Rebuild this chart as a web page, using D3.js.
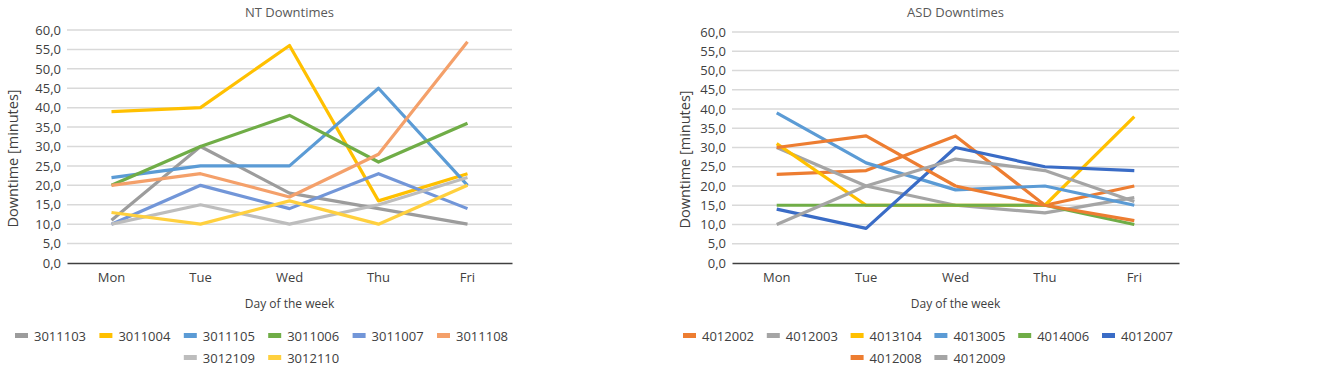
<!DOCTYPE html>
<html>
<head>
<meta charset="utf-8">
<script src="https://cdn.jsdelivr.net/npm/d3@7"></script>
<style>
  body { margin: 0; background: #fff; }
  svg text { font-family: "Open Sans", "Noto Sans", sans-serif; }
</style>
</head>
<body>
<svg id="chart" width="1325" height="368"></svg>
<script>
// shared data
var days = ["Mon", "Tue", "Wed", "Thu", "Fri"];
var yTicks = [0, 5, 10, 15, 20, 25, 30, 35, 40, 45, 50, 55, 60];

// NT chart
var ntNames = ["3011103", "3011004", "3011105", "3011006", "3011007", "3011108", "3012109", "3012110"];
var ntColors = ["#9c9c9c", "#ffc000", "#5b9bd5", "#70ad47", "#7296d8", "#f4a06a", "#bdbdbd", "#ffd03e"];
var nt3011103 = [11, 30, 18, 14, 10];
var nt3011004 = [39, 40, 56, 16, 23];
var nt3011105 = [22, 25, 25, 45, 20];
var nt3011006 = [20, 30, 38, 26, 36];
var nt3011007 = [10, 20, 14, 23, 14];
var nt3011108 = [20, 23, 17, 28, 57];
var nt3012109 = [10, 15, 10, 15, 22];
var nt3012110 = [13, 10, 16, 10, 20];
var ntValues = [nt3011103, nt3011004, nt3011105, nt3011006, nt3011007, nt3011108, nt3012109, nt3012110];

// ASD chart
var asdNames = ["4012002", "4012003", "4013104", "4013005", "4014006", "4012007", "4012008", "4012009"];
var asdColors = ["#ed7d31", "#a5a5a5", "#ffc000", "#5b9bd5", "#70ad47", "#3a6cc6", "#ed7d31", "#a5a5a5"];
var asd4012002 = [23, 24, 33, 15, 20];
var asd4012003 = [30, 20, 15, 13, 17];
var asd4013104 = [31, 15, 15, 15, 38];
var asd4013005 = [39, 26, 19, 20, 15];
var asd4014006 = [15, 15, 15, 15, 10];
var asd4012007 = [14, 9, 30, 25, 24];
var asd4012008 = [30, 33, 20, 15, 11];
var asd4012009 = [10, 20, 27, 24, 16];
var asdValues = [asd4012002, asd4012003, asd4013104, asd4013005, asd4014006, asd4012007, asd4012008, asd4012009];

var svg = d3.select("#chart");

function drawPanel(opt) {
    var g = svg.append("g");
    var x = d3.scaleBand().domain(days).range([opt.left, opt.right]);
    var y = d3.scaleLinear().domain([0, 60]).range([opt.bottom, opt.top]);
    var fmt = function (d) { return d3.format(".1f")(d).replace(".", ","); };

    // gridlines
    g.append("g").selectAll("line")
        .data(yTicks.filter(function (d) { return d > 0; }))
        .join("line")
        .attr("x1", opt.left).attr("x2", opt.right)
        .attr("y1", function (d) { return y(d); })
        .attr("y2", function (d) { return y(d); })
        .attr("stroke", "#d9d9d9")
        .attr("stroke-width", 1.5);

    // y axis labels
    var ya = g.append("g")
        .attr("transform", "translate(" + (opt.left - 6) + ",0)")
        .call(d3.axisLeft(y).tickValues(yTicks).tickFormat(fmt).tickSize(0).tickPadding(0));
    ya.select(".domain").remove();
    ya.selectAll("text").attr("fill", "#404040").style("font-size", "13px");

    // x axis
    var xa = g.append("g")
        .attr("transform", "translate(0," + opt.bottom + ")")
        .call(d3.axisBottom(x).tickSize(0).tickPadding(10));
    xa.select(".domain").attr("stroke", "#404040").attr("stroke-width", 1.5);
    xa.selectAll("text").attr("fill", "#404040").style("font-size", "13px");

    // lines
    var line = d3.line()
        .x(function (d, i) { return x(days[i]) + x.bandwidth() / 2; })
        .y(function (d) { return y(d); });
    g.append("g").selectAll("path")
        .data(opt.values)
        .join("path")
        .attr("d", line)
        .attr("fill", "none")
        .attr("stroke", function (d, i) { return opt.colors[i]; })
        .attr("stroke-width", 3.2)
        .attr("stroke-linejoin", "round");

    var cx = (opt.left + opt.right) / 2;
    g.append("text")
        .attr("x", cx).attr("y", 17)
        .attr("text-anchor", "middle")
        .attr("fill", "#595959")
        .style("font-size", "13px")
        .text(opt.title);

    g.append("text")
        .attr("x", cx).attr("y", opt.bottom + 45)
        .attr("text-anchor", "middle")
        .attr("fill", "#404040")
        .style("font-size", "12px")
        .text("Day of the week");

    g.append("text")
        .attr("transform", "translate(" + opt.yTitleX + "," + ((opt.top + opt.bottom) / 2 + 12) + ") rotate(-90)")
        .attr("text-anchor", "middle")
        .attr("fill", "#404040")
        .style("font-size", "14.5px")
        .text("Downtime [minutes]");

    // legend: 6 per row, second row starts under third slot
    var lg = g.append("g");
    opt.names.forEach(function (n, i) {
        var slot = i < 6 ? i : i - 4;
        var row = i < 6 ? 0 : 1;
        var lx = opt.legendX + slot * opt.legendStep;
        var ly = 336 + row * 22;
        lg.append("rect")
            .attr("x", lx).attr("y", ly - 3)
            .attr("width", 13).attr("height", 5)
            .attr("fill", opt.colors[i]);
        lg.append("text")
            .attr("x", lx + 19).attr("y", ly + 4.5)
            .attr("fill", "#404040")
            .style("font-size", "13px")
            .text(n);
    });
}

drawPanel({
    title: "NT Downtimes", names: ntNames, colors: ntColors, values: ntValues,
    left: 67, right: 512, top: 30, bottom: 263, yTitleX: 18,
    legendX: 15, legendStep: 84.4
});

drawPanel({
    title: "ASD Downtimes", names: asdNames, colors: asdColors, values: asdValues,
    left: 732, right: 1179, top: 32, bottom: 263, yTitleX: 690,
    legendX: 683, legendStep: 83.8
});
</script>
</body>
</html>
